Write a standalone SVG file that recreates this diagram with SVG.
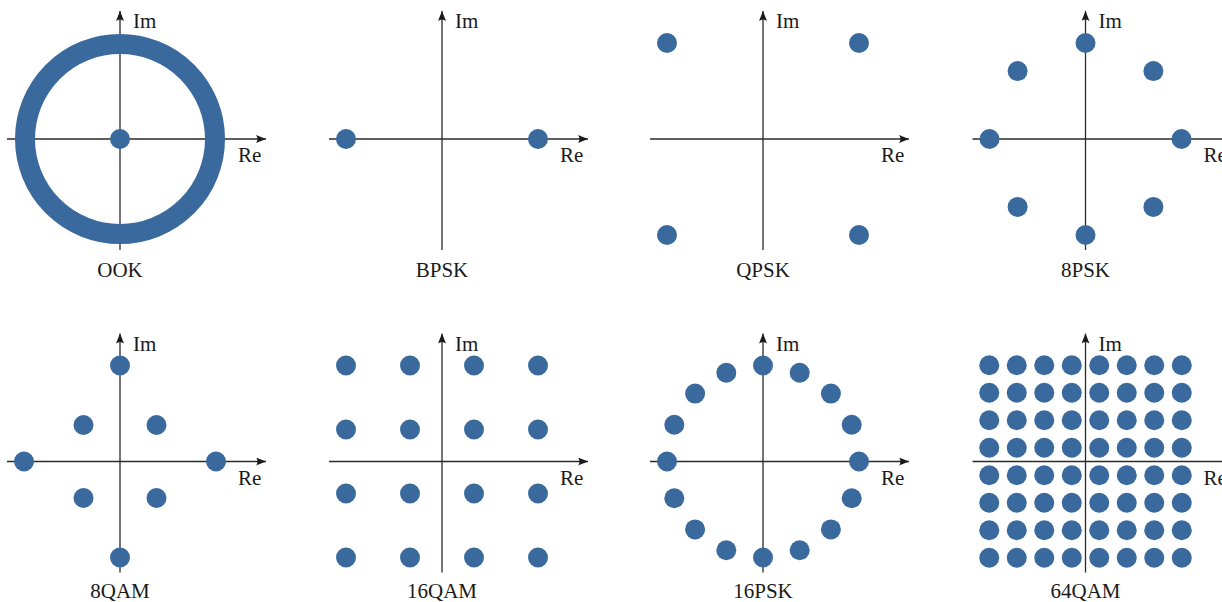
<svg xmlns="http://www.w3.org/2000/svg" width="1222" height="602" viewBox="0 0 1222 602">
<style>
.ax{stroke:#2a2a2a;stroke-width:1.3;fill:none;marker-end:url(#arr)}
.d{fill:#3a6a9d}
.t{font-family:"Liberation Serif","Times New Roman",serif;font-size:21px;fill:#1a1a1a}
.lb{font-family:"Liberation Serif","Times New Roman",serif;font-size:21px;fill:#1a1a1a;text-anchor:middle}
</style>
<defs>
<marker id="arr" viewBox="0 0 10 8" refX="10" refY="4" markerWidth="10" markerHeight="8" orient="auto" markerUnits="userSpaceOnUse">
<path d="M0,0 L10,4 L0,8 Q3,4 0,0 z" fill="#1a1a1a"/>
</marker>
<g id="axes">
<line class="ax" x1="-113" y1="0" x2="146" y2="0"/>
<line class="ax" x1="0" y1="111" x2="0" y2="-128"/>
<text class="t" x="13" y="-111">Im</text>
<text class="t" x="118" y="23">Re</text>
</g>
<g id="row64">
<circle class="d" cx="-96.25" cy="0" r="10"/><circle class="d" cx="-68.75" cy="0" r="10"/><circle class="d" cx="-41.25" cy="0" r="10"/><circle class="d" cx="-13.75" cy="0" r="10"/>
<circle class="d" cx="13.75" cy="0" r="10"/><circle class="d" cx="41.25" cy="0" r="10"/><circle class="d" cx="68.75" cy="0" r="10"/><circle class="d" cx="96.25" cy="0" r="10"/>
</g>
</defs>

<g id="connectors">
<use href="#axes" transform="translate(120,139)"/>
<use href="#axes" transform="translate(442,139)"/>
<use href="#axes" transform="translate(763,139)"/>
<use href="#axes" transform="translate(1085.5,139)"/>
<use href="#axes" transform="translate(120,461.5)"/>
<use href="#axes" transform="translate(442,461.5)"/>
<use href="#axes" transform="translate(763,461.5)"/>
<use href="#axes" transform="translate(1085.5,461.5)"/>
</g>

<g id="ook" transform="translate(120,139)">
<circle cx="0" cy="0" r="95" fill="none" stroke="#3a6a9d" stroke-width="20"/>
<circle class="d" cx="0" cy="0" r="10"/>
<text class="lb" x="0" y="138">OOK</text>
</g>

<g id="bpsk" transform="translate(442,139)">
<circle class="d" cx="-96" cy="0" r="10"/>
<circle class="d" cx="96" cy="0" r="10"/>
<text class="lb" x="0" y="138">BPSK</text>
</g>

<g id="qpsk" transform="translate(763,139)">
<circle class="d" cx="-96" cy="-96" r="10"/>
<circle class="d" cx="96" cy="-96" r="10"/>
<circle class="d" cx="-96" cy="96" r="10"/>
<circle class="d" cx="96" cy="96" r="10"/>
<text class="lb" x="0" y="138">QPSK</text>
</g>

<g id="psk8" transform="translate(1085.5,139)">
<circle class="d" cx="0" cy="-96" r="10"/>
<circle class="d" cx="67.9" cy="-67.9" r="10"/>
<circle class="d" cx="96" cy="0" r="10"/>
<circle class="d" cx="67.9" cy="67.9" r="10"/>
<circle class="d" cx="0" cy="96" r="10"/>
<circle class="d" cx="-67.9" cy="67.9" r="10"/>
<circle class="d" cx="-96" cy="0" r="10"/>
<circle class="d" cx="-67.9" cy="-67.9" r="10"/>
<text class="lb" x="0" y="138">8PSK</text>
</g>

<g id="qam8" transform="translate(120,461.5)">
<circle class="d" cx="0" cy="-96" r="10"/>
<circle class="d" cx="0" cy="96" r="10"/>
<circle class="d" cx="-96" cy="0" r="10"/>
<circle class="d" cx="96" cy="0" r="10"/>
<circle class="d" cx="-36.5" cy="-36.5" r="10"/>
<circle class="d" cx="36.5" cy="-36.5" r="10"/>
<circle class="d" cx="-36.5" cy="36.5" r="10"/>
<circle class="d" cx="36.5" cy="36.5" r="10"/>
<text class="lb" x="0" y="136">8QAM</text>
</g>

<g id="qam16" transform="translate(442,461.5)">
<circle class="d" cx="-96" cy="-96" r="10"/><circle class="d" cx="-32" cy="-96" r="10"/><circle class="d" cx="32" cy="-96" r="10"/><circle class="d" cx="96" cy="-96" r="10"/>
<circle class="d" cx="-96" cy="-32" r="10"/><circle class="d" cx="-32" cy="-32" r="10"/><circle class="d" cx="32" cy="-32" r="10"/><circle class="d" cx="96" cy="-32" r="10"/>
<circle class="d" cx="-96" cy="32" r="10"/><circle class="d" cx="-32" cy="32" r="10"/><circle class="d" cx="32" cy="32" r="10"/><circle class="d" cx="96" cy="32" r="10"/>
<circle class="d" cx="-96" cy="96" r="10"/><circle class="d" cx="-32" cy="96" r="10"/><circle class="d" cx="32" cy="96" r="10"/><circle class="d" cx="96" cy="96" r="10"/>
<text class="lb" x="0" y="136">16QAM</text>
</g>

<g id="psk16" transform="translate(763,461.5)">
<circle class="d" cx="0" cy="-96" r="10"/>
<circle class="d" cx="36.7" cy="-88.7" r="10"/>
<circle class="d" cx="67.9" cy="-67.9" r="10"/>
<circle class="d" cx="88.7" cy="-36.7" r="10"/>
<circle class="d" cx="96" cy="0" r="10"/>
<circle class="d" cx="88.7" cy="36.7" r="10"/>
<circle class="d" cx="67.9" cy="67.9" r="10"/>
<circle class="d" cx="36.7" cy="88.7" r="10"/>
<circle class="d" cx="0" cy="96" r="10"/>
<circle class="d" cx="-36.7" cy="88.7" r="10"/>
<circle class="d" cx="-67.9" cy="67.9" r="10"/>
<circle class="d" cx="-88.7" cy="36.7" r="10"/>
<circle class="d" cx="-96" cy="0" r="10"/>
<circle class="d" cx="-88.7" cy="-36.7" r="10"/>
<circle class="d" cx="-67.9" cy="-67.9" r="10"/>
<circle class="d" cx="-36.7" cy="-88.7" r="10"/>
<text class="lb" x="0" y="136">16PSK</text>
</g>

<g id="qam64" transform="translate(1085.5,461.5)">
<use href="#row64" transform="translate(0,-96.25)"/>
<use href="#row64" transform="translate(0,-68.75)"/>
<use href="#row64" transform="translate(0,-41.25)"/>
<use href="#row64" transform="translate(0,-13.75)"/>
<use href="#row64" transform="translate(0,13.75)"/>
<use href="#row64" transform="translate(0,41.25)"/>
<use href="#row64" transform="translate(0,68.75)"/>
<use href="#row64" transform="translate(0,96.25)"/>
<text class="lb" x="0" y="136">64QAM</text>
</g>
</svg>
